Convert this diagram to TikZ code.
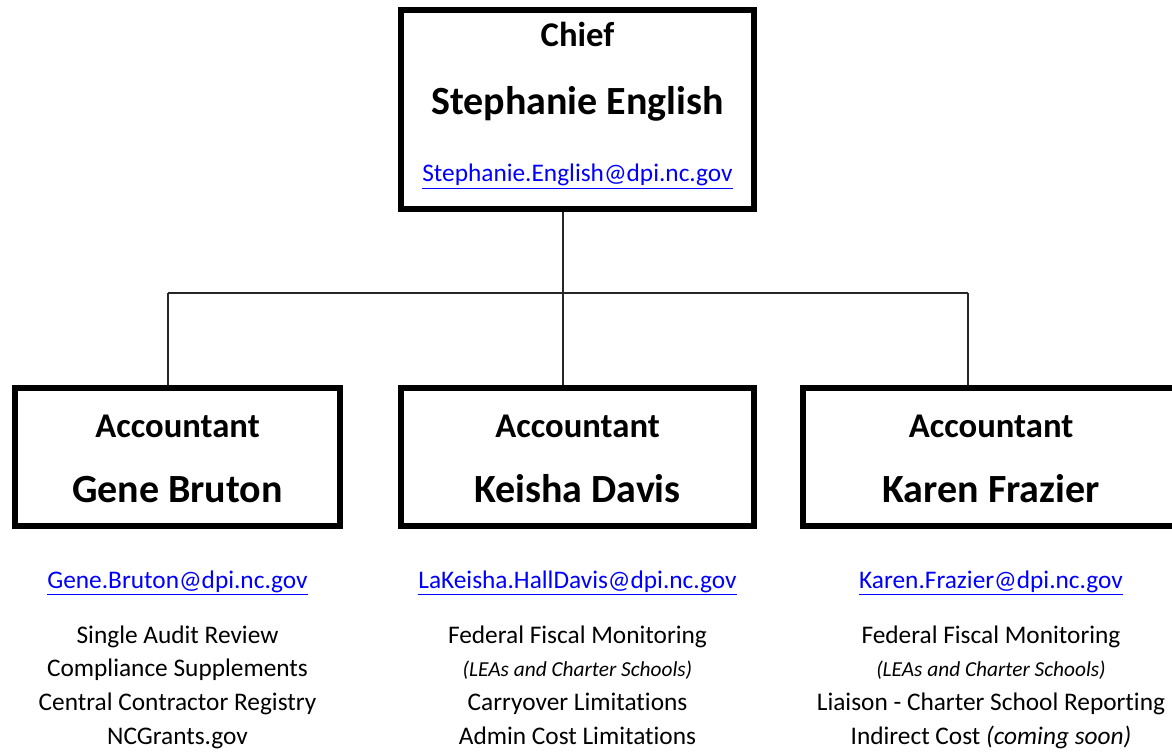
\documentclass[tikz,border=0pt]{standalone}
\usepackage{fontspec}
\setmainfont{Carlito}[Ligatures=NoCommon]
\usetikzlibrary{positioning}
\definecolor{linkblue}{RGB}{0,0,255}
\newcommand{\leasnote}{\fontsize{16}{19}\selectfont\itshape}

\begin{document}
\begin{tikzpicture}[x=0.75pt,y=-0.75pt,
  chartbox/.style={rectangle,draw,line width=4.5pt,inner sep=0pt},
  titletext/.style={anchor=base,inner sep=0pt,font=\fontsize{26}{31}\selectfont\bfseries},
  nametext/.style={anchor=base,inner sep=0pt,font=\fontsize{30}{36}\selectfont\bfseries},
  mailtext/.style={anchor=base,inner sep=0pt,text=linkblue,font=\fontsize{19}{23}\selectfont},
  dutytext/.style={anchor=base,inner sep=0pt,font=\fontsize{19}{23}\selectfont},
  orgline/.style={draw=black!85,line width=0.8pt}]
\useasboundingbox (0,0) rectangle (1172,752);
% boxes
\node [chartbox,minimum width=264.75pt,minimum height=149.25pt] (chief) at (577.5,109.5) {};
\node [chartbox,minimum width=243.75pt,minimum height=103.5pt] (gene) at (177.5,457) {};
\node [chartbox,minimum width=264.75pt,minimum height=103.5pt] (keisha) at (577.5,457) {};
\node [chartbox,minimum width=282pt,minimum height=103.5pt] (karen) at (991,457) {};
% connectors
\coordinate (hub) at (563,293);
\coordinate (busl) at (168,293);
\coordinate (busr) at (968,293);
\draw [orgline] (chief.south -| hub) -- (hub);
\draw [orgline] (busl) -- (busr);
\draw [orgline] (busl) -- (busl |- gene.north);
\draw [orgline] (hub) -- (hub |- keisha.north);
\draw [orgline] (busr) -- (busr |- karen.north);
% chief
\node [titletext] (chieft) at (577.5,47) {Chief};
\node [nametext]  (chiefn) at (577.5,115) {Stephanie English};
\node [mailtext]  (chiefm) at (577.5,182) {\underline{Stephanie.English@dpi.nc.gov}};
% accountants
\node [titletext] (genet) at (177.5,437) {Accountant};
\node [nametext]  (genen) at (177.5,503) {Gene Bruton};
\node [titletext] (keishat) at (577.5,437) {Accountant};
\node [nametext]  (keishan) at (577.5,503) {Keisha Davis};
\node [titletext] (karent) at (991,437) {Accountant};
\node [nametext]  (karenn) at (991,503) {Karen Frazier};
% e-mails
\node [mailtext] (genem) at (177.5,588) {\underline{Gene.Bruton@dpi.nc.gov}};
\node [mailtext] (keisham) at (577.5,588) {\underline{LaKeisha.HallDavis@dpi.nc.gov}};
\node [mailtext] (karenm) at (991,588) {\underline{Karen.Frazier@dpi.nc.gov}};
% duties
\foreach \duty [count=\i] in {Single Audit Review,Compliance Supplements,Central Contractor Registry,NCGrants.gov}
  \node [dutytext] (gened\i) at (177.5,643+33.67*\i-33.67) {\duty};
\foreach \duty [count=\i] in {Federal Fiscal Monitoring,{\leasnote (LEAs and Charter Schools)},Carryover Limitations,Admin Cost Limitations}
  \node [dutytext] (keishad\i) at (577.5,643+33.67*\i-33.67) {\duty};
\foreach \duty [count=\i] in {Federal Fiscal Monitoring,{\leasnote (LEAs and Charter Schools)},Liaison - Charter School Reporting,{Indirect Cost \textit{(coming soon)}}}
  \node [dutytext] (karend\i) at (991,643+33.67*\i-33.67) {\duty};
\end{tikzpicture}
\end{document}
